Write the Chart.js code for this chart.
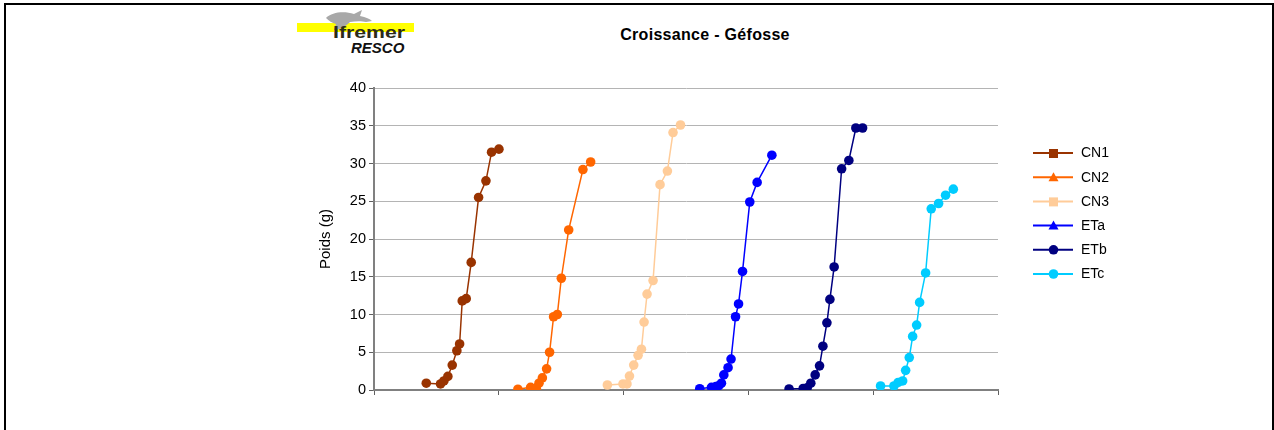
<!DOCTYPE html>
<html>
<head>
<meta charset="utf-8">
<script src="https://cdn.jsdelivr.net/npm/chart.js@4.4.1/dist/chart.umd.min.js"></script>
<style>
  html, body { margin: 0; padding: 0; background: #fff; }
  #wrap { position: relative; width: 1274px; height: 430px; overflow: hidden; font-family: "Liberation Sans", Arial, sans-serif; }
  #frame { position: absolute; left: 4px; top: 3px; width: 1266px; height: 440px; border-left: 2px solid #000; border-top: 2px solid #000; border-right: 2px solid #000; }
  #chart { position: absolute; left: 0; top: 0; }
  #title { position: absolute; left: 555px; width: 300px; top: 26px; text-align: center; font-weight: bold; font-size: 16px; color: #000; letter-spacing: 0.3px; }
  #logo { position: absolute; left: 296px; top: 8px; width: 120px; height: 50px; }
</style>
</head>
<body>
<div id="wrap">
  <div id="frame"></div>
  <svg id="logo" width="120" height="50" viewBox="0 0 120 50">
    <rect x="1" y="15" width="117" height="9" fill="#ffff00"/>
    <path d="M30 10 C36 4, 48 3, 58 6 L66 2 L64 8 C70 9, 74 11, 76 13 L70 14 C66 13, 60 13, 54 14 C50 18, 44 22, 38 22 L40 16 C36 15, 33 13, 30 10 Z" fill="#a8a8a8"/>
    <text x="37" y="30" font-family="Liberation Sans, Arial" font-weight="bold" font-size="16" fill="#2b2b1a" textLength="72" lengthAdjust="spacingAndGlyphs">Ifremer</text>
    <text x="55" y="45" font-family="Liberation Sans, Arial" font-weight="bold" font-style="italic" font-size="15" fill="#111">RESCO</text>
  </svg>
  <div id="title">Croissance - Géfosse</div>
  <canvas id="chart" width="1274" height="430"></canvas>
</div>
<script>
// ---- data (x = position along the unlabeled axis, y = weight in g)
const seriesNames = ['CN1', 'CN2', 'CN3', 'ETa', 'ETb', 'ETc'];

const cn1X = [41.9, 53.3, 56.0, 59.2, 62.7, 66.4, 68.6, 70.7, 73.9, 77.9, 83.8, 89.7, 94.2, 100.1];
const cn1Y = [0.9, 0.8, 1.2, 1.8, 3.3, 5.2, 6.1, 11.8, 12.1, 16.9, 25.5, 27.7, 31.5, 31.9];

const cn2X = [115.3, 125.5, 130.1, 132.2, 134.9, 138.3, 140.7, 143.9, 146.9, 150.1, 156.0, 167.4, 173.6];
const cn2Y = [0.1, 0.35, 0.25, 0.9, 1.6, 2.8, 5.0, 9.7, 10.0, 14.8, 21.2, 29.2, 30.2];

const cn3X = [187.0, 199.5, 202.7, 204.7, 208.1, 211.6, 214.3, 216.4, 218.8, 223.6, 229.2, 235.1, 239.6, 245.6];
const cn3Y = [0.66, 0.8, 0.8, 1.85, 3.3, 4.6, 5.4, 9.0, 12.7, 14.5, 27.2, 29.0, 34.1, 35.1];

const etaX = [261.0, 270.4, 273.9, 276.5, 278.4, 280.3, 283.7, 286.1, 289.7, 292.1, 295.3, 301.1, 307.0, 318.8];
const etaY = [0.17, 0.35, 0.45, 0.6, 0.9, 2.0, 2.95, 4.1, 9.7, 11.4, 15.7, 24.9, 27.5, 31.1];

const etbX = [332.6, 343.9, 347.1, 350.0, 353.5, 357.0, 359.7, 362.9, 365.3, 368.7, 374.7, 380.5, 386.1, 391.5];
const etbY = [0.13, 0.2, 0.3, 0.9, 2.0, 3.2, 5.8, 8.9, 12.0, 16.3, 29.3, 30.4, 34.7, 34.7];

const etcX = [405.9, 416.6, 420.0, 423.6, 426.0, 428.9, 431.6, 434.8, 437.2, 442.0, 446.5, 452.4, 458.0, 464.2];
const etcY = [0.53, 0.53, 1.0, 1.2, 2.6, 4.3, 7.1, 8.6, 11.6, 15.5, 24.0, 24.7, 25.8, 26.6];

const yTicks = [0, 5, 10, 15, 20, 25, 30, 35, 40];

const seriesColors = ['#993300', '#FF6600', '#FFCC99', '#0000FF', '#000080', '#00CCFF'];
const legendMarkers = ['rect', 'triangle', 'rect', 'triangle', 'circle', 'circle'];

const allX = [cn1X, cn2X, cn3X, etaX, etbX, etcX];
const allY = [cn1Y, cn2Y, cn3Y, etaY, etbY, etcY];

const FONT = '"Liberation Sans", Arial, sans-serif';

function toPoints(xs, ys) {
  return xs.map((x, i) => ({ x: x, y: ys[i] }));
}

const datasets = seriesNames.map((name, i) => ({
  label: name,
  data: toPoints(allX[i], allY[i]),
  showLine: true,
  borderColor: seriesColors[i],
  backgroundColor: seriesColors[i],
  borderWidth: 1.5,
  pointRadius: 4.8,
  pointBorderWidth: 0,
  pointBackgroundColor: seriesColors[i],
  tension: 0
}));

// legend: line - marker - line, then the name (drawn on the canvas)
const sideLegend = {
  id: 'sideLegend',
  afterDraw(chart) {
    const ctx = chart.ctx;
    ctx.save();
    chart.data.datasets.forEach((ds, i) => {
      const y = 153 + i * 24.2;
      ctx.strokeStyle = ds.borderColor;
      ctx.lineWidth = 2;
      ctx.beginPath();
      ctx.moveTo(1033, y);
      ctx.lineTo(1073, y);
      ctx.stroke();
      ctx.fillStyle = ds.borderColor;
      const m = legendMarkers[i];
      if (m === 'rect') {
        ctx.fillRect(1049, y - 4, 9, 9);
      } else if (m === 'triangle') {
        ctx.beginPath();
        ctx.moveTo(1053.5, y - 5);
        ctx.lineTo(1058.5, y + 4);
        ctx.lineTo(1048.5, y + 4);
        ctx.closePath();
        ctx.fill();
      } else {
        ctx.beginPath();
        ctx.arc(1053.5, y, 4.8, 0, Math.PI * 2);
        ctx.fill();
      }
      ctx.fillStyle = '#000';
      ctx.font = '14px ' + FONT;
      ctx.textBaseline = 'middle';
      ctx.fillText(ds.label, 1081, y + 0.5);
    });
    ctx.restore();
  }
};

new Chart(document.getElementById('chart'), {
  type: 'scatter',
  data: { datasets: datasets },
  options: {
    responsive: false,
    animation: false,
    layout: { padding: { left: 316, top: 88, right: 276, bottom: 34 } },
    plugins: {
      legend: { display: false },
      tooltip: { enabled: false }
    },
    scales: {
      x: {
        type: 'linear',
        min: 0,
        max: 500,
        ticks: { stepSize: 100, callback: () => '' },
        grid: { drawOnChartArea: false, drawTicks: true, tickLength: 5, tickColor: '#606060', tickWidth: 1 },
        border: { color: '#808080', width: 2 },
        afterFit: (scale) => { scale.height = 6; }
      },
      y: {
        min: 0,
        max: 40,
        afterBuildTicks: (scale) => { scale.ticks = yTicks.map(v => ({ value: v })); },
        ticks: { color: '#000', font: { family: FONT, size: 14.5 }, padding: 3 },
        grid: { color: '#b4b4b4', lineWidth: 1, tickLength: 5, tickColor: '#606060' },
        border: { color: '#808080', width: 2 },
        title: { display: true, text: 'Poids (g)', color: '#000', font: { family: FONT, size: 15 }, padding: { top: 1, bottom: 0 } },
        afterFit: (scale) => { scale.width = 58; }
      }
    }
  },
  plugins: [sideLegend]
});
</script>
</body>
</html>
